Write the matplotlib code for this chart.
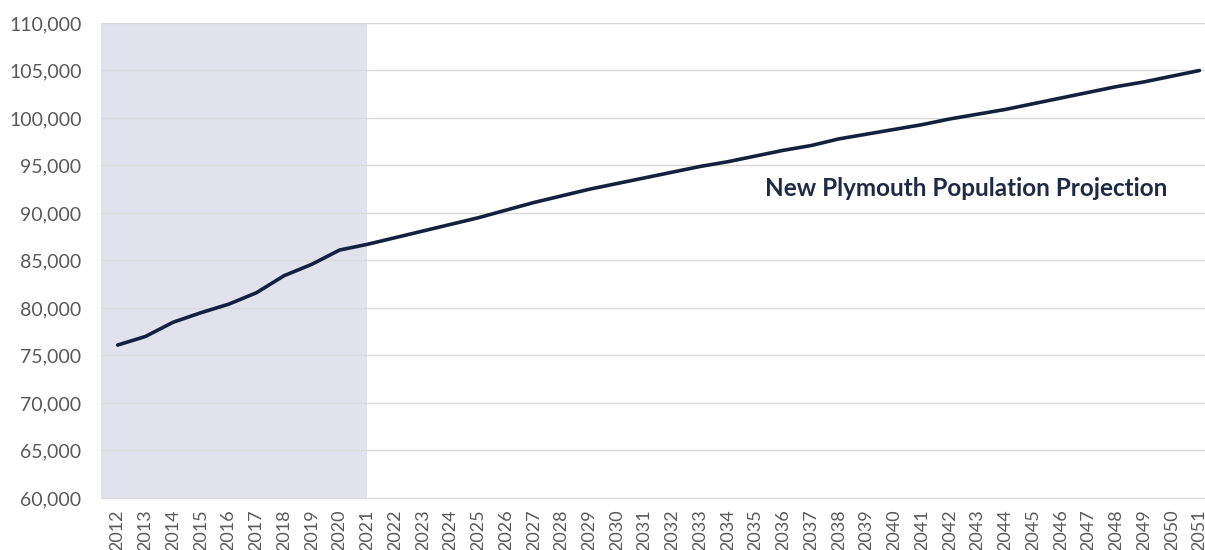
import matplotlib.pyplot as plt
from matplotlib.ticker import FuncFormatter

# population values
years = list(range(2012, 2052))
population = [76100, 77000, 78500, 79500, 80400, 81600, 83400, 84600, 86100, 86700,
              87400, 88100, 88800, 89500, 90300, 91100, 91800, 92500, 93100, 93700,
              94300, 94900, 95400, 96000, 96600, 97100, 97800, 98300, 98800, 99300,
              99900, 100400, 100900, 101500, 102100, 102700, 103300, 103800, 104400, 105000]
history_end = 2021
title_text = 'New Plymouth Population Projection'

plt.rcParams['font.family'] = ['Lato', 'DejaVu Sans']

fig = plt.figure(figsize=(12.05, 5.5), dpi=100)
ax = fig.add_axes([101 / 1205, 52 / 550, 1 - 101 / 1205, 475 / 550])

# historic period shading
ax.axvspan(2011.4, history_end, color='#e1e2ee', zorder=0, lw=0)

ax.plot(years, population, color='#15203f', linewidth=2.6, zorder=3,
        solid_capstyle='round')

ax.set_xlim(2011.4, 2051.2)
ax.set_ylim(60000, 110000)
ax.set_yticks(range(60000, 110001, 5000))
ax.yaxis.set_major_formatter(FuncFormatter(lambda v, p: f'{int(v):,}'))
ax.set_xticks(years)
ax.set_xticklabels([str(y) for y in years], rotation=90)

ax.grid(axis='y', color='#d9d9d9', linewidth=1, zorder=1)
ax.set_axisbelow(True)
for s in ['top', 'right', 'left']:
    ax.spines[s].set_visible(False)
ax.spines['bottom'].set_color('#d9d9d9')
ax.tick_params(axis='both', length=0, colors='#595959')
ax.tick_params(axis='y', labelsize=14, pad=14)
ax.tick_params(axis='x', labelsize=13, pad=8)

ax.text(2042.6, 92600, title_text, ha='center', va='center', fontsize=17.5,
        fontweight='bold', color='#1f2a44')

fig.savefig('out.png', dpi=100)
